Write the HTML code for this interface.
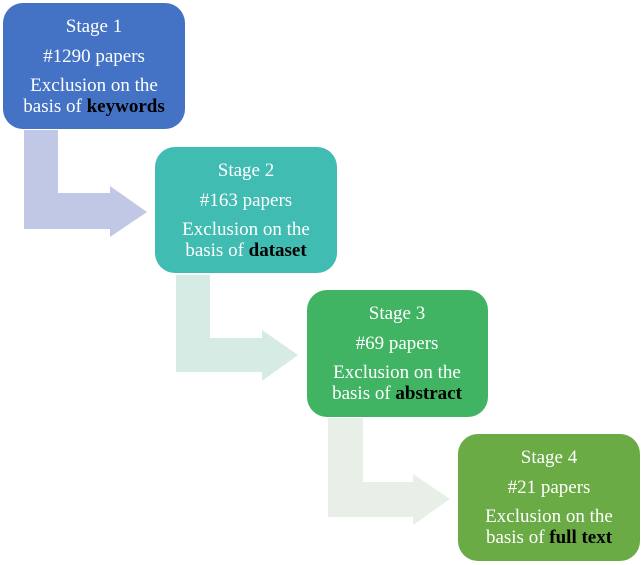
<!DOCTYPE html>
<html><head><style>html,body{margin:0;padding:0;background:#fff}svg{display:block}</style></head>
<body>
<svg width="644" height="565" viewBox="0 0 644 565" xmlns="http://www.w3.org/2000/svg" font-family="Liberation Serif, serif" font-size="19" text-anchor="middle">
<polygon points="24,130 58,130 58,193 110,193 110,186 147,212 110,237 110,229 24,229" fill="#c1c8e5"/>
<polygon points="176,275 210,275 210,338 262,338 262,330 298,355 262,381 262,372 176,372" fill="#d7ebe5"/>
<polygon points="328,418 363,418 363,482 413,482 413,474 450,499 413,525 413,517 328,517" fill="#e7efe7"/>
<g>
<rect x="3" y="3" width="182" height="126" rx="20" fill="#4472c4"/>
<g transform="translate(94,3)" fill="#fff">
<text y="29">Stage 1</text><text y="59">#1290 papers</text><text y="88">Exclusion on the</text><text y="109">basis of <tspan font-weight="bold" fill="#000">keywords</tspan></text></g>
<rect x="155" y="147" width="182" height="126" rx="20" fill="#41bcb3"/>
<g transform="translate(246,147)" fill="#fff">
<text y="29">Stage 2</text><text y="59">#163 papers</text><text y="88">Exclusion on the</text><text y="109">basis of <tspan font-weight="bold" fill="#000">dataset</tspan></text></g>
<rect x="307" y="290" width="181" height="127" rx="20" fill="#41b463"/>
<g transform="translate(397,290)" fill="#fff">
<text y="29">Stage 3</text><text y="59">#69 papers</text><text y="88">Exclusion on the</text><text y="109">basis of <tspan font-weight="bold" fill="#000">abstract</tspan></text></g>
<rect x="458" y="434" width="182" height="127" rx="20" fill="#6aab45"/>
<g transform="translate(549,434)" fill="#fff">
<text y="29">Stage 4</text><text y="59">#21 papers</text><text y="88">Exclusion on the</text><text y="109">basis of <tspan font-weight="bold" fill="#000">full text</tspan></text></g>
</g>
</svg>
</body></html>
